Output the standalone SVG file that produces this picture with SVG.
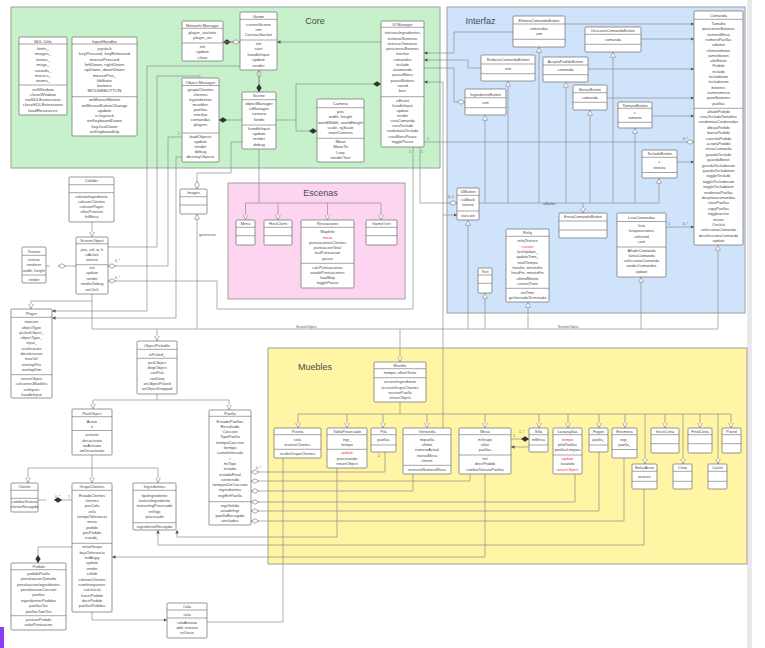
<svg xmlns="http://www.w3.org/2000/svg" width="765" height="648" viewBox="0 0 765 648">
<defs>
<style>
text{font-family:"Liberation Sans",Arial,sans-serif;font-size:4.2px;fill:#4a4a4a;text-anchor:middle}
.n{fill:#fff;stroke:#6a6a6a;stroke-width:.7}
.s{stroke:#6a6a6a;stroke-width:.6;fill:none}
.c{fill:none;stroke:#8e8e8e;stroke-width:.7}
.L{font-size:9px;fill:#4a4a4a}
.m{font-size:3.4px;text-anchor:start;fill:#555}
.r{fill:#e53935}
.big text{font-size:4.4px}
.sm text{font-size:3.9px}
.reg{stroke:#a0a0a0;stroke-width:1}
</style>
<marker id="a" viewBox="0 0 6 6" refX="6" refY="3" markerWidth="3.5" markerHeight="3.5" markerUnits="userSpaceOnUse" orient="auto"><path d="M0,0L6,3L0,6z" fill="#555"/></marker>
<marker id="t" viewBox="0 0 10 10" refX="10" refY="5" markerWidth="5.5" markerHeight="5.5" markerUnits="userSpaceOnUse" orient="auto"><path d="M0.5,0.5L9.5,5L0.5,9.5z" fill="#fff" stroke="#777" stroke-width="1"/></marker>
<marker id="df" viewBox="0 0 12 8" refX="12" refY="4" markerWidth="8" markerHeight="5.3" markerUnits="userSpaceOnUse" orient="auto"><path d="M0,4L6,0L12,4L6,8z" fill="#333"/></marker>
<marker id="dw" viewBox="0 0 12 8" refX="12" refY="4" markerWidth="8" markerHeight="5.3" markerUnits="userSpaceOnUse" orient="auto"><path d="M0.5,4L6,0.5L11.5,4L6,7.5z" fill="#fff" stroke="#777" stroke-width="1"/></marker>
</defs>
<rect width="765" height="648" fill="#fff"/>
<rect x="747" y="0" width="5" height="648" fill="#e9e9e9"/>
<rect x="0" y="627" width="4" height="21" fill="#8b3cf7"/>

<!-- regions -->
<g id="core-pkg"><rect class="reg" x="11" y="7" width="429" height="161" fill="#c6f1cb"/><text class="L" x="315" y="23.5">Core</text></g>
<g id="interfaz-pkg"><rect class="reg" x="447" y="7" width="298" height="306" fill="#cfe3fb"/><text class="L" x="480.5" y="23.5">Interfaz</text></g>
<g id="escenas-pkg"><rect class="reg" x="228" y="183" width="177" height="116" fill="#fdd5f1"/><text class="L" x="320.5" y="196">Escenas</text></g>
<g id="muebles-pkg"><rect class="reg" x="268" y="348" width="479" height="216" fill="#fff5a5"/><text class="L" x="315" y="370">Muebles</text></g>

<!-- connectors -->
<g id="connectors">
<path class="c" d="M240,42H223" marker-end="url(#df)"/>
<path class="c" d="M223,42H240" marker-end="url(#dw)"/>
<path class="c" d="M381,42H277" marker-end="url(#a)"/>
<path class="c" d="M259,92V70" marker-end="url(#dw)"/>
<path class="c" d="M259,70V92" marker-end="url(#df)"/>
<path class="c" d="M242,120H219" marker-end="url(#df)"/>
<path class="c" d="M276,120H296V84H381" marker-end="url(#df)"/>
<path class="c" d="M296,120V131H317" marker-end="url(#df)"/>
<path class="c" d="M242,142H231V173H197V189" marker-end="url(#dw)"/>
<path class="c" d="M259,149V203M245.5,203H381"/>
<path class="c" d="M245.5,203V220" marker-end="url(#t)"/>
<path class="c" d="M278,203V220" marker-end="url(#t)"/>
<path class="c" d="M327.5,203V220" marker-end="url(#t)"/>
<path class="c" d="M381,203V220" marker-end="url(#t)"/>
<path class="c" d="M240,66H147V311H52" marker-end="url(#a)"/>
<path class="c" d="M108,247H157V76H200V78"/>
<path class="c" d="M182,137H168V266H108" marker-end="url(#dw)"/>
<path class="c" d="M182,157H176V318H52" marker-end="url(#a)"/>
<path class="c" d="M413,147V309H217V281H108" marker-end="url(#dw)"/>
<path class="c" d="M420,147V203H457" marker-end="url(#dw)"/>
<path class="c" d="M479,203H659"/>
<path class="c" d="M485,203V115" marker-end="url(#t)"/>
<path class="c" d="M508,203V81" marker-end="url(#t)"/>
<path class="c" d="M539,203V47" marker-end="url(#t)"/>
<path class="c" d="M566,203V82" marker-end="url(#t)"/>
<path class="c" d="M590,203V110" marker-end="url(#t)"/>
<path class="c" d="M613,203V52" marker-end="url(#t)"/>
<path class="c" d="M635,203V128" marker-end="url(#t)"/>
<path class="c" d="M659,203V178" marker-end="url(#t)"/>
<path class="c" d="M583,203V213" marker-end="url(#t)"/>
<path class="c" d="M513,32H454V53H424" marker-end="url(#a)"/>
<path class="c" d="M481,68H468V60H424" marker-end="url(#a)"/>
<path class="c" d="M424,68H454V102H465" marker-end="url(#dw)"/>
<path class="c" d="M443,428V82H424" marker-end="url(#a)"/>
<path class="c" d="M443,215H457" marker-end="url(#a)"/>
<path class="c" d="M424,142H694" marker-end="url(#dw)"/>
<path class="c" d="M565,24H694" marker-end="url(#a)"/>
<path class="c" d="M641,39H694" marker-end="url(#a)"/>
<path class="c" d="M588,69H694" marker-end="url(#a)"/>
<path class="c" d="M607,98H694" marker-end="url(#a)"/>
<path class="c" d="M652,116H694" marker-end="url(#a)"/>
<path class="c" d="M677,162H694" marker-end="url(#a)"/>
<path class="c" d="M666,227H694" marker-end="url(#a)"/>
<path class="c" d="M92,294V329H718M92,301H31"/>
<path class="c" d="M31,301V309" marker-end="url(#t)"/>
<path class="c" d="M92,222V237" marker-end="url(#t)"/>
<path class="c" d="M468,329V220" marker-end="url(#t)"/>
<path class="c" d="M485,329V293" marker-end="url(#t)"/>
<path class="c" d="M528,329V302" marker-end="url(#t)"/>
<path class="c" d="M641,329V277" marker-end="url(#t)"/>
<path class="c" d="M718,329V245" marker-end="url(#t)"/>
<path class="c" d="M197,329V214" marker-end="url(#t)"/>
<path class="c" d="M400,329V362" marker-end="url(#t)"/>
<path class="c" d="M157,329V341" marker-end="url(#t)"/>
<path class="c" d="M157,394V400M93,400H229"/>
<path class="c" d="M93,400V409" marker-end="url(#t)"/>
<path class="c" d="M229,400V410" marker-end="url(#t)"/>
<path class="c" d="M92,455V468M28,468H158"/>
<path class="c" d="M28,468V483" marker-end="url(#t)"/>
<path class="c" d="M92,468V483" marker-end="url(#t)"/>
<path class="c" d="M158,468V483" marker-end="url(#t)"/>
<path class="c" d="M72,500H54" marker-end="url(#df)"/>
<path class="c" d="M46,500H38"/>
<path class="c" d="M72,547H38V563" marker-end="url(#df)"/>
<path class="c" d="M92,612V620H167" marker-end="url(#a)"/>
<path class="c" d="M485,474V557H112" marker-end="url(#a)"/>
<path class="c" d="M644,489V545H158V530" marker-end="url(#a)"/>
<path class="c" d="M337,468V537H177V530" marker-end="url(#a)"/>
<path class="c" d="M283,458V622H207"/>
<path class="c" d="M385,452V472H251" marker-end="url(#dw)"/>
<path class="c" d="M470,474V481H251" marker-end="url(#dw)"/>
<path class="c" d="M413,474V491H251" marker-end="url(#dw)"/>
<path class="c" d="M575,474V502H251" marker-end="url(#dw)"/>
<path class="c" d="M599,452V511H251" marker-end="url(#dw)"/>
<path class="c" d="M624,458V521H251" marker-end="url(#dw)"/>
<path class="c" d="M511,439H529" marker-end="url(#df)"/>
<path class="c" d="M529,447H511" marker-end="url(#a)"/>
<path class="c" d="M400,402V414M298,414H731"/>
<path class="c" d="M298,414V428" marker-end="url(#t)"/>
<path class="c" d="M347,414V428" marker-end="url(#t)"/>
<path class="c" d="M383,414V428" marker-end="url(#t)"/>
<path class="c" d="M427,414V428" marker-end="url(#t)"/>
<path class="c" d="M485,414V428" marker-end="url(#t)"/>
<path class="c" d="M539,414V428" marker-end="url(#t)"/>
<path class="c" d="M568,414V428" marker-end="url(#t)"/>
<path class="c" d="M599,414V428" marker-end="url(#t)"/>
<path class="c" d="M625,414V428" marker-end="url(#t)"/>
<path class="c" d="M665,414V428" marker-end="url(#t)"/>
<path class="c" d="M700,414V428" marker-end="url(#t)"/>
<path class="c" d="M731,414V428" marker-end="url(#t)"/>
<path class="c" d="M645,414V464" marker-end="url(#t)"/>
<path class="c" d="M683,414V464" marker-end="url(#t)"/>
<path class="c" d="M718,414V464" marker-end="url(#t)"/>
<path class="c" d="M76,266H58" marker-end="url(#dw)"/>
<path class="c" d="M50,266H46"/>
<text class="m" x="178" y="135">1</text>
<text class="m" x="115" y="262">0..*</text>
<text class="m" x="115" y="279">0..*</text>
<text class="m" x="409" y="153">1</text>
<text class="m" x="421" y="153">1</text>
<text class="m" x="448" y="198">0..1</text>
<text class="m" x="427" y="140">1</text>
<text class="m" x="683" y="140">0..*</text>
<text class="m" x="668" y="225">1</text>
<text class="m" x="683" y="225">0..*</text>
<text class="m" x="55" y="498">0..*</text>
<text class="m" x="68" y="498">1</text>
<text class="m" x="256" y="469">0..*</text>
<text class="m" x="378" y="457">2</text>
<text class="m" x="513" y="437">1</text>
<text class="m" x="519" y="433">1..*</text>
<text class="m" x="543" y="205">uiButton</text>
<text class="m" x="296" y="328">ScreenObject</text>
<text class="m" x="558" y="328">ScreenObject</text>
<text class="m" x="199" y="236">generacion</text>
</g>

<!-- Core nodes -->
<g id="sdlutils" class="big"><rect class="n" x="19" y="37" width="48" height="78" rx="1"/><text x="43" y="42.5">SDL Utils</text><path class="s" d="M19,44H67M19,85H67"/>
<text><tspan x="43" y="50">fonts_</tspan><tspan x="43" y="55.4">images_</tspan><tspan x="43" y="60.8">textos_</tspan><tspan x="43" y="66.2">msgs_</tspan><tspan x="43" y="71.6">sounds_</tspan><tspan x="43" y="77">musics_</tspan><tspan x="43" y="82.4">anims_</tspan></text>
<text><tspan x="43" y="90.5">initWindow</tspan><tspan x="43" y="95.8">closeWindow</tspan><tspan x="43" y="101.1">initSDLExtensions</tspan><tspan x="43" y="106.4">closeSDLExtensions</tspan><tspan x="43" y="111.7">loadResources</tspan></text></g>

<g id="inputhandler" class="big"><rect class="n" x="72" y="37" width="65" height="99" rx="1"/><text x="104.5" y="42.5">InputHandler</text><path class="s" d="M72,44H137M72,96.7H137"/>
<text><tspan x="104.5" y="50">joystick</tspan><tspan x="104.5" y="55.3">keyPressed, keyReleased</tspan><tspan x="104.5" y="60.6">mousePressed</tspan><tspan x="104.5" y="65.9">leftDown, rightDown</tspan><tspan x="104.5" y="71.2">upDown, downDown</tspan><tspan x="104.5" y="76.5">mousePos_</tspan><tspan x="104.5" y="81.8">kbState</tspan><tspan x="104.5" y="87.1">buttons</tspan><tspan x="104.5" y="92.4">MOUSEBUTTON</tspan></text>
<text><tspan x="104.5" y="101.2">onMouseMotion</tspan><tspan x="104.5" y="106.5">onMouseButtonChange</tspan><tspan x="104.5" y="111.8">update</tspan><tspan x="104.5" y="117.1">isJoystick</tspan><tspan x="104.5" y="122.4">onKeyboardDown</tspan><tspan x="104.5" y="127.7">keyJustDown</tspan><tspan x="104.5" y="133">onKeyboardUp</tspan></text></g>

<g id="networkmanager"><rect class="n" x="182" y="21" width="41" height="40" rx="1"/><text x="202.5" y="26.5">Network Manager</text><path class="s" d="M182,28.3H223M182,43H223"/>
<text><tspan x="202.5" y="33.5">player_sockets</tspan><tspan x="202.5" y="38.5">player_on</tspan></text>
<text><tspan x="202.5" y="48.2">init</tspan><tspan x="202.5" y="53.4">update</tspan><tspan x="202.5" y="58.6">close</tspan></text></g>

<g id="game"><rect class="n" x="240" y="12" width="37" height="58" rx="1"/><text x="258.5" y="17.5">Game</text><path class="s" d="M240,19.3H277M240,40H277"/>
<text><tspan x="258.5" y="25.5">currentScene</tspan><tspan x="258.5" y="30.8">nm</tspan><tspan x="258.5" y="36.1">CanvasSocket</tspan></text>
<text><tspan x="258.5" y="44.8">init</tspan><tspan x="258.5" y="50.3">start</tspan><tspan x="258.5" y="55.8">handleInput</tspan><tspan x="258.5" y="61.3">update</tspan><tspan x="258.5" y="66.8">render</tspan></text></g>

<g id="objectmanager"><rect class="n" x="182" y="78" width="37" height="84" rx="1"/><text x="200.5" y="83.5">Object Manager</text><path class="s" d="M182,85.5H219M182,133H219"/>
<text><tspan x="200.5" y="91">grupoClientes</tspan><tspan x="200.5" y="96">clientes</tspan><tspan x="200.5" y="101">ingredientes</tspan><tspan x="200.5" y="106">muebles</tspan><tspan x="200.5" y="111">paellas</tspan><tspan x="200.5" y="116">interfaz</tspan><tspan x="200.5" y="121">comandas</tspan><tspan x="200.5" y="126">players</tspan></text>
<text><tspan x="200.5" y="138">loadObjects</tspan><tspan x="200.5" y="143.1">update</tspan><tspan x="200.5" y="148.2">render</tspan><tspan x="200.5" y="153.3">debug</tspan><tspan x="200.5" y="158.4">destroyObjects</tspan></text></g>

<g id="scene"><rect class="n" x="242" y="92" width="34" height="57" rx="1"/><text x="259" y="97.3">Scene</text><path class="s" d="M242,99.7H276M242,125H276"/>
<text><tspan x="259" y="105">objectManager</tspan><tspan x="259" y="110.2">uiManager</tspan><tspan x="259" y="115.4">camera</tspan><tspan x="259" y="120.6">fondo</tspan></text>
<text><tspan x="259" y="130">handleInput</tspan><tspan x="259" y="135.2">update</tspan><tspan x="259" y="140.4">render</tspan><tspan x="259" y="145.6">debug</tspan></text></g>

<g id="camera"><rect class="n" x="317" y="99" width="47" height="63" rx="1"/><text x="340.5" y="105">Camera</text><path class="s" d="M317,107.7H364M317,138.3H364"/>
<text><tspan x="340.5" y="113.2">pos</tspan><tspan x="340.5" y="118.4">width, height</tspan><tspan x="340.5" y="123.6">worldWidth, worldHeight</tspan><tspan x="340.5" y="128.8">scale, rgScale</tspan><tspan x="340.5" y="134">mainCamera</tspan></text>
<text><tspan x="340.5" y="143.2">Move</tspan><tspan x="340.5" y="148.4">MoveTo</tspan><tspan x="340.5" y="153.6">Lerp</tspan><tspan x="340.5" y="158.8">renderText</tspan></text></g>

<g id="uimanager" class="sm"><rect class="n" x="381" y="21" width="43" height="126" rx="1"/><text x="402.5" y="25.5">UI Manager</text><path class="s" d="M381,27.3H424M381,96.7H424"/>
<text><tspan x="402.5" y="34.2">texturasIngredientes</tspan><tspan x="402.5" y="39.5">texturasNumeros</tspan><tspan x="402.5" y="44.7">texturasTamanos</tspan><tspan x="402.5" y="50">posicionesBotones</tspan><tspan x="402.5" y="55.3">interfaz</tspan><tspan x="402.5" y="60.6">comandas</tspan><tspan x="402.5" y="65.8">teclado</tspan><tspan x="402.5" y="71.1">uicomanda</tspan><tspan x="402.5" y="76.4">pauseMenu</tspan><tspan x="402.5" y="81.6">pauseButtons</tspan><tspan x="402.5" y="86.9">sound</tspan><tspan x="402.5" y="92.2">bars</tspan></text>
<text><tspan x="402.5" y="101.5">uiEvent</tspan><tspan x="402.5" y="106.7">handleInput</tspan><tspan x="402.5" y="111.8">update</tspan><tspan x="402.5" y="117">render</tspan><tspan x="402.5" y="122.1">creaComanda</tspan><tspan x="402.5" y="127.3">creaTeclado</tspan><tspan x="402.5" y="132.4">randomizaTeclado</tspan><tspan x="402.5" y="137.6">creaMenuPause</tspan><tspan x="402.5" y="142.7">togglePause</tspan></text></g>

<!-- Interfaz nodes -->
<g id="eliminacomandabutton" class="sm"><rect class="n" x="513" y="16" width="52" height="31" rx="1"/><text x="539" y="21.5">EliminaComandaButton</text><path class="s" d="M513,24H565M513,39.3H565"/><text><tspan x="539" y="29.8">comandas</tspan><tspan x="539" y="34.6">uim</tspan></text></g>
<g id="redactacomandabutton" class="sm"><rect class="n" x="481" y="55" width="54" height="26" rx="1"/><text x="508" y="60.8">RedactaComandaButton</text><path class="s" d="M481,64H535M481,73.7H535"/><text x="508" y="69.8">uim</text></g>
<g id="aceptapedidobutton" class="sm"><rect class="n" x="543" y="57" width="45" height="25" rx="1"/><text x="565.5" y="62.5">AceptaPedidoButton</text><path class="s" d="M543,65H588M543,74.7H588"/><text x="565.5" y="70.8">comanda</text></g>
<g id="ingredientebutton" class="sm"><rect class="n" x="465" y="89" width="41" height="26" rx="1"/><text x="485.5" y="95.5">IngredienteButton</text><path class="s" d="M465,97.7H506M465,107.7H506"/><text x="485.5" y="104.2">uim</text></g>
<g id="descartacomandabutton" class="sm"><rect class="n" x="585" y="27" width="56" height="25" rx="1"/><text x="613" y="31.8">DescartaComandaButton</text><path class="s" d="M585,34.3H641M585,44.3H641"/><text x="613" y="40.5">comanda</text></g>
<g id="borrarbutton" class="sm"><rect class="n" x="573" y="85" width="34" height="25" rx="1"/><text x="590" y="90.5">BorrarButton</text><path class="s" d="M573,92.7H607M573,102.3H607"/><text x="590" y="99.2">comanda</text></g>
<g id="tamanobutton" class="sm"><rect class="n" x="618" y="102" width="34" height="26" rx="1"/><text x="635" y="106.5">TamanoButton</text><path class="s" d="M618,108.3H652M618,122.3H652"/><text><tspan x="635" y="114.3">c</tspan><tspan x="635" y="119.3">tamano</tspan></text></g>
<g id="tecladobutton" class="sm"><rect class="n" x="642" y="150" width="35" height="28" rx="1"/><text x="659.5" y="155">TecladoButton</text><path class="s" d="M642,157.3H677M642,172.5H677"/><text><tspan x="659.5" y="163">c</tspan><tspan x="659.5" y="168.5">textura</tspan></text></g>

<g id="comanda" class="sm"><rect class="n" x="694" y="11" width="49" height="234" rx="1"/><text x="718.5" y="16.5">Comanda</text><path class="s" d="M694,19.3H743M694,108.3H743"/>
<text><tspan x="718.5" y="24.8">Tamaño</tspan><tspan x="718.5" y="30.1">posicionesBotones</tspan><tspan x="718.5" y="35.5">numeroMesa</tspan><tspan x="718.5" y="40.8">numeroPaellas</tspan><tspan x="718.5" y="46.1">uiboton</tspan><tspan x="718.5" y="51.5">eliminarboton</tspan><tspan x="718.5" y="56.8">jamonboton</tspan><tspan x="718.5" y="62.1">altoBoton</tspan><tspan x="718.5" y="67.4">Pedido</tspan><tspan x="718.5" y="72.8">teclado</tspan><tspan x="718.5" y="78.1">tecladotam</tspan><tspan x="718.5" y="83.4">tecladonum</tspan><tspan x="718.5" y="88.8">botones</tspan><tspan x="718.5" y="94.1">numeromesa</tspan><tspan x="718.5" y="99.4">panelbotones</tspan><tspan x="718.5" y="104.8">paellas</tspan></text>
<text><tspan x="718.5" y="112.5">añadirPedido</tspan><tspan x="718.5" y="117.9">creaTecladoTamaños</tspan><tspan x="718.5" y="123.3">randomizaCordenadas</tspan><tspan x="718.5" y="128.7">dibujaPedido</tspan><tspan x="718.5" y="134.1">borrarPedido</tspan><tspan x="718.5" y="139.5">cancelaPedido</tspan><tspan x="718.5" y="144.9">aceptaPedido</tspan><tspan x="718.5" y="150.3">enviaComanda</tspan><tspan x="718.5" y="155.7">guardaTeclado</tspan><tspan x="718.5" y="161.1">guardaBoton</tspan><tspan x="718.5" y="166.5">guardaTecladonum</tspan><tspan x="718.5" y="171.9">guardaTecladotam</tspan><tspan x="718.5" y="177.3">toggleTeclado</tspan><tspan x="718.5" y="182.7">toggleTecladonum</tspan><tspan x="718.5" y="188.1">toggleTecladotam</tspan><tspan x="718.5" y="193.5">renderizaPaellas</tspan><tspan x="718.5" y="198.9">desplazacomandas</tspan><tspan x="718.5" y="204.3">clearPaellas</tspan><tspan x="718.5" y="209.7">copyPaellas</tspan><tspan x="718.5" y="215.1">toggleactive</tspan><tspan x="718.5" y="220.5">enviar</tspan><tspan x="718.5" y="225.9">Onclick</tspan><tspan x="718.5" y="231.3">seleccionaComanda</tspan><tspan x="718.5" y="236.7">deseleccionaComanda</tspan><tspan x="718.5" y="242.1">update</tspan></text></g>

<g id="uibutton" class="sm"><rect class="n" x="457" y="188" width="22" height="32" rx="1"/><text x="468" y="193">UIButton</text><path class="s" d="M457,195.3H479M457,211H479"/><text><tspan x="468" y="201">callback</tspan><tspan x="468" y="206">texture</tspan></text><text x="468" y="216.5">execute</text></g>
<g id="enviacomandabutton" class="sm"><rect class="n" x="559" y="213" width="48" height="25" rx="1"/><text x="583" y="218.2">EnviaComandaButton</text><path class="s" d="M559,221H607M559,230H607"/></g>
<g id="listacomandas" class="sm"><rect class="n" x="617" y="213" width="49" height="64" rx="1"/><text x="641.5" y="218.8">ListaComandas</text><path class="s" d="M617,221.5H666M617,247H666"/>
<text><tspan x="641.5" y="226.5">lista</tspan><tspan x="641.5" y="232">listaposiciones</tspan><tspan x="641.5" y="237.5">selected</tspan><tspan x="641.5" y="242.8">cant</tspan></text>
<text><tspan x="641.5" y="251.5">AñadirComanda</tspan><tspan x="641.5" y="256.8">lanzaComanda</tspan><tspan x="641.5" y="262.1">seleccionaComanda</tspan><tspan x="641.5" y="267.4">renderComandas</tspan><tspan x="641.5" y="272.7">update</tspan></text></g>
<g id="text" class="sm"><rect class="n" x="478" y="268" width="14" height="25" rx="1"/><text x="485" y="272.5">Text</text><path class="s" d="M478,275H492M478,283.3H492"/></g>
<g id="reloj" class="sm"><rect class="n" x="506" y="229" width="43" height="73" rx="1"/><text x="527.5" y="233.8">Reloj</text><path class="s" d="M506,236.3H549M506,288.3H549"/>
<text><tspan x="527.5" y="242.2">relojTexture</tspan><tspan class="r" x="527.5" y="247.5">current</tspan><tspan x="527.5" y="252.8">lastUpdate_</tspan><tspan x="527.5" y="258.2">updateTime_</tspan><tspan x="527.5" y="263.5">totalTiempo</tspan><tspan x="527.5" y="268.8">horaIni, minutoIni</tspan><tspan x="527.5" y="274.2">horaFin, minutoFin</tspan><tspan x="527.5" y="279.5">ultimoMinuto</tspan><tspan x="527.5" y="284.8">currentTime</tspan></text>
<text><tspan x="527.5" y="294.2">initTime</tspan><tspan x="527.5" y="299.2">getJornadaTerminada</tspan></text></g>

<!-- Escenas nodes -->
<g id="menu" class="sm"><rect class="n" x="236" y="220" width="19" height="25" rx="1"/><text x="245.5" y="224.8">Menu</text><path class="s" d="M236,227.3H255M236,235.7H255"/></g>
<g id="hostclient" class="sm"><rect class="n" x="264" y="220" width="28" height="25" rx="1"/><text x="278" y="224.8">HostClient</text><path class="s" d="M264,227.3H292M264,235.7H292"/></g>
<g id="restaurante" class="sm"><rect class="n" x="301" y="220" width="53" height="68" rx="1"/><text x="327.5" y="224.8">Restaurante</text><path class="s" d="M301,227.3H354M301,263.3H354"/>
<text><tspan x="327.5" y="233.2">MapInfo</tspan><tspan class="r" x="327.5" y="238.5">mesa</tspan><tspan x="327.5" y="243.7">puntuacionesClientes</tspan><tspan x="327.5" y="249.2">puntuacionTotal</tspan><tspan x="327.5" y="254.4">lastPuntuacion</tspan><tspan x="327.5" y="259.6">pausa</tspan></text>
<text><tspan x="327.5" y="268.8">calcPuntuaciones</tspan><tspan x="327.5" y="274">anadirPuntuaciones</tspan><tspan x="327.5" y="279">loadMap</tspan><tspan x="327.5" y="284.2">togglePause</tspan></text></g>
<g id="gameover" class="sm"><rect class="n" x="366" y="220" width="31" height="25" rx="1"/><text x="381.5" y="224.8">GameOver</text><path class="s" d="M366,227.3H397M366,235.7H397"/></g>

<!-- left column -->
<g id="images" class="sm"><rect class="n" x="180" y="189" width="27" height="25" rx="1"/><text x="193.5" y="194">Images</text><path class="s" d="M180,196.7H207M180,205H207"/></g>
<g id="collider" class="sm"><rect class="n" x="69" y="177" width="45" height="45" rx="1"/><text x="91.5" y="182">Collider</text><path class="s" d="M69,184.7H114M69,192.7H114"/>
<text><tspan x="91.5" y="198">colisionIngrediente</tspan><tspan x="91.5" y="203">colisionClientes</tspan><tspan x="91.5" y="208">colisionPlayer</tspan><tspan x="91.5" y="213">sillasProvisto</tspan><tspan x="91.5" y="218">hitMesa</tspan></text></g>
<g id="screenobject" class="sm"><rect class="n" x="76" y="237" width="32" height="57" rx="1"/><text x="92" y="241.8">ScreenObject</text><path class="s" d="M76,243.7H108M76,264.7H108"/>
<text><tspan x="92" y="250.5">pos, vel, w, h</tspan><tspan x="92" y="255.7">isActive</tspan><tspan x="92" y="260.9">texture</tspan></text>
<text><tspan x="92" y="269">init</tspan><tspan x="92" y="274.4">update</tspan><tspan x="92" y="279.8">render</tspan><tspan x="92" y="285.2">renderDebug</tspan><tspan x="92" y="290.6">onClick</tspan></text></g>
<g id="texture" class="sm"><rect class="n" x="22" y="247" width="24" height="36" rx="1"/><text x="34" y="252.8">Texture</text><path class="s" d="M22,255.3H46M22,275H46"/>
<text><tspan x="34" y="260.5">texture</tspan><tspan x="34" y="266">renderer</tspan><tspan x="34" y="271.8">width, height</tspan></text><text x="34" y="280.5">render</text></g>
<g id="player" class="sm"><rect class="n" x="11" y="309" width="41" height="89" rx="1"/><text x="31.5" y="314.5">Player</text><path class="s" d="M11,317.3H52M11,374.7H52"/>
<text><tspan x="31.5" y="323.2">rotacion</tspan><tspan x="31.5" y="328.5">objectType</tspan><tspan x="31.5" y="333.8">pickedObject_</tspan><tspan x="31.5" y="339.1">objectType_</tspan><tspan x="31.5" y="344.4">input_</tspan><tspan x="31.5" y="349.7">aceleracion</tspan><tspan x="31.5" y="355">deceleracion</tspan><tspan x="31.5" y="360.3">maxVel</tspan><tspan x="31.5" y="365.6">overlapPos</tspan><tspan x="31.5" y="370.9">overlapDim</tspan></text>
<text><tspan x="31.5" y="379.8">returnObject</tspan><tspan x="31.5" y="385.2">colisionesMuebles</tspan><tspan x="31.5" y="390.5">setInputs</tspan><tspan x="31.5" y="395.6">handleInput</tspan></text></g>
<g id="objectpickable" class="sm"><rect class="n" x="137" y="341" width="40" height="53" rx="1"/><text x="157" y="346.8">ObjectPickable</text><path class="s" d="M137,349.3H177M137,358.3H177"/><text x="157" y="355.5">isPicked_</text>
<text><tspan x="157" y="363.8">pickObject</tspan><tspan x="157" y="369.1">dropObject</tspan><tspan x="157" y="374.4">canPick</tspan><tspan x="157" y="379.7">canDrop</tspan><tspan x="157" y="385">onObjectPicked</tspan><tspan x="157" y="390.3">onObjectDropped</tspan></text></g>
<g id="poolobject" class="sm"><rect class="n" x="72" y="409" width="40" height="46" rx="1"/><text x="92" y="414.5">PoolObject</text><path class="s" d="M72,416.7H112M72,430.5H112"/>
<text><tspan x="92" y="422.5">Active</tspan><tspan x="92" y="427.6">it</tspan></text>
<text><tspan x="92" y="436.2">activate</tspan><tspan x="92" y="441.5">desactivate</tspan><tspan x="92" y="446.8">onActivate</tspan><tspan x="92" y="452.1">onDesactivate</tspan></text></g>
<g id="cliente" class="sm"><rect class="n" x="11" y="483" width="27" height="29" rx="1"/><text x="24.5" y="488.2">Cliente</text><path class="s" d="M11,490.3H38M11,498.3H38"/>
<text><tspan x="24.5" y="503">cambiaTextura</tspan><tspan x="24.5" y="508.2">clienteRecogido</tspan></text></g>
<g id="grupoclientes" class="sm"><rect class="n" x="72" y="483" width="40" height="129" rx="1"/><text x="92" y="488.2">GrupoClientes</text><path class="s" d="M72,490.3H112M72,543.3H112"/>
<text><tspan x="92" y="496.5">EstadoClientes</tspan><tspan x="92" y="501.8">clientes</tspan><tspan x="92" y="507.2">posCola</tspan><tspan x="92" y="512.5">cola</tspan><tspan x="92" y="517.9">tiempoTolerancia</tspan><tspan x="92" y="523.2">mesa</tspan><tspan x="92" y="528.6">pedido</tspan><tspan x="92" y="533.9">posPedido</tspan><tspan x="92" y="539.3">estado_</tspan></text>
<text><tspan x="92" y="548.2">initialGrupo</tspan><tspan x="92" y="553.6">bajaTolerancia</tspan><tspan x="92" y="559">initAngry</tspan><tspan x="92" y="564.3">update</tspan><tspan x="92" y="569.7">render</tspan><tspan x="92" y="575.1">collide</tspan><tspan x="92" y="580.5">colisionClientes</tspan><tspan x="92" y="585.9">numIntegrantes</tspan><tspan x="92" y="591.2">calcInicial</tspan><tspan x="92" y="596.6">hacerPedido</tspan><tspan x="92" y="602">decirPedido</tspan><tspan x="92" y="607.4">paellasPedidas</tspan></text></g>
<g id="ingredientes" class="sm"><rect class="n" x="133" y="483" width="43" height="47" rx="1"/><text x="154.5" y="488.2">Ingredientes</text><path class="s" d="M133,490.3H176M133,522.7H176"/>
<text><tspan x="154.5" y="496.5">tipoIngrediente</tspan><tspan x="154.5" y="501.8">texturaIngrediente</tspan><tspan x="154.5" y="507.2">texturaIngProcesado</tspan><tspan x="154.5" y="512.5">enVigo</tspan><tspan x="154.5" y="517.9">procesado</tspan></text><text x="154.5" y="527.5">ingredienteRecogido</text></g>
<g id="pedido" class="sm"><rect class="n" x="11" y="563" width="55" height="67" rx="1"/><text x="38.5" y="567.8">Pedido</text><path class="s" d="M11,569.7H66M11,615.7H66"/>
<text><tspan x="38.5" y="574.8">pedidoPaella</tspan><tspan x="38.5" y="580.2">penalizacionTamaño</tspan><tspan x="38.5" y="585.6">penalizacionIngredientes</tspan><tspan x="38.5" y="591">penalizacionCoccion</tspan><tspan x="38.5" y="596.4">paellas</tspan><tspan x="38.5" y="601.8">ingredientesPedidos</tspan><tspan x="38.5" y="607.2">paellasTex</tspan><tspan x="38.5" y="612.6">paellasTamTex</tspan></text>
<text><tspan x="38.5" y="620.8">puntuarPedido</tspan><tspan x="38.5" y="626.3">valorPuntuacion</tspan></text></g>
<g id="cola" class="sm"><rect class="n" x="167" y="603" width="40" height="35" rx="1"/><text x="187" y="607.6">Cola</text><path class="s" d="M167,610H207M167,618H207"/><text x="187" y="615.5">cola</text>
<text><tspan x="187" y="623.5">colaAvanza</tspan><tspan x="187" y="628.7">add, remove</tspan><tspan x="187" y="633.9">esVacio</tspan></text></g>
<g id="paella"><rect class="n" x="209" y="410" width="42" height="115" rx="1"/><text x="230" y="414.6">Paella</text><path class="s" d="M209,416.3H251M209,501.7H251"/>
<text><tspan x="230" y="422.5">EstadoPaellas</tspan><tspan x="230" y="427.8">Resultado</tspan><tspan x="230" y="433.1">Coccion</tspan><tspan x="230" y="438.4">TipoPaella</tspan><tspan x="230" y="443.7">tiempoCoccion</tspan><tspan x="230" y="449">tiempo</tspan><tspan x="230" y="454.3">sumaIntervalo</tspan><tspan x="230" y="459.6">i</tspan><tspan x="230" y="464.9">miTipo</tspan><tspan x="230" y="470.2">estado</tspan><tspan x="230" y="475.5">estadoFinal</tspan><tspan x="230" y="480.8">contenido</tspan><tspan x="230" y="486.1">tiemposDeCoccion</tspan><tspan x="230" y="491.4">ingredientes</tspan><tspan x="230" y="496.7">ingrEnPaella</tspan></text>
<text><tspan x="230" y="506.5">ingrValido</tspan><tspan x="230" y="511.8">anadirIngr</tspan><tspan x="230" y="517.1">paellaRecogida</tspan><tspan x="230" y="522.4">anulados</tspan></text></g>

<!-- Muebles nodes -->
<g id="mueble" class="sm"><rect class="n" x="374" y="362" width="52" height="40" rx="1"/><text x="400" y="366.5">Mueble</text><path class="s" d="M374,368.7H426M374,377.7H426"/><text x="400" y="374.4">tiempo, offsetTexto</text>
<text><tspan x="400" y="383.2">receiveIngrediente</tspan><tspan x="400" y="388.5">receiveGrupoClientes</tspan><tspan x="400" y="393.8">receivePaella</tspan><tspan x="400" y="399.1">returnObject</tspan></text></g>
<g id="puerta" class="sm"><rect class="n" x="274" y="428" width="47" height="30" rx="1"/><text x="297.5" y="432.5">Puerta</text><path class="s" d="M274,434.7H321M274,449.3H321"/><text><tspan x="297.5" y="440.5">cola</tspan><tspan x="297.5" y="445.8">texturaClientes</tspan></text><text x="297.5" y="454.8">recibeGrupoClientes</text></g>
<g id="tablaprocesado" class="sm"><rect class="n" x="327" y="428" width="40" height="40" rx="1"/><text x="347" y="432.5">TablaProcesado</text><path class="s" d="M327,434.7H367M327,449.3H367"/><text><tspan x="347" y="440.5">ingr_</tspan><tspan x="347" y="445.8">tiempo</tspan></text>
<text><tspan class="r" x="347" y="454.4">update</tspan><tspan x="347" y="459.7">procesando</tspan><tspan x="347" y="465">returnObject</tspan></text></g>
<g id="pila" class="sm"><rect class="n" x="371" y="428" width="25" height="24" rx="1"/><text x="383.5" y="432.5">Pila</text><path class="s" d="M371,434.7H396M371,445H396"/><text x="383.5" y="441">paellas</text></g>
<g id="ventanilla" class="sm"><rect class="n" x="403" y="428" width="48" height="46" rx="1"/><text x="427" y="432.5">Ventanilla</text><path class="s" d="M403,434.7H451M403,465.3H451"/>
<text><tspan x="427" y="440.8">mipaella</tspan><tspan x="427" y="446.1">ultimo</tspan><tspan x="427" y="451.4">numeroActual</tspan><tspan x="427" y="456.7">nuevaMesa</tspan><tspan x="427" y="462">cliente</tspan></text><text x="427" y="470.5">muestraNumeroMesa</text></g>
<g id="mesa" class="sm"><rect class="n" x="459" y="428" width="52" height="46" rx="1"/><text x="485" y="432.5">Mesa</text><path class="s" d="M459,434.7H511M459,455H511"/>
<text><tspan x="485" y="440.8">mGrupo</tspan><tspan x="485" y="446.1">sillas</tspan><tspan x="485" y="451.4">paellas</tspan></text>
<text><tspan x="485" y="459.8">init</tspan><tspan x="485" y="465.2">decirPedido</tspan><tspan x="485" y="470.5">cambiaTexturaPaellas</tspan></text></g>
<g id="silla" class="sm"><rect class="n" x="529" y="428" width="19" height="24" rx="1"/><text x="538.5" y="432.5">Silla</text><path class="s" d="M529,434.7H548M529,445H548"/><text x="538.5" y="441">mMesa</text></g>
<g id="lavavajillas" class="sm"><rect class="n" x="553" y="428" width="29" height="46" rx="1"/><text x="567.5" y="432.5">Lavavajillas</text><path class="s" d="M553,434.7H582M553,455H582"/>
<text><tspan class="r" x="567.5" y="440.8">tiempo</tspan><tspan x="567.5" y="446.1">pilaPaellas</tspan><tspan x="567.5" y="451.4">paellasLimpias</tspan></text>
<text><tspan class="r" x="567.5" y="459.8">update</tspan><tspan x="567.5" y="465.2">lavando</tspan><tspan class="r" x="567.5" y="470.5">returnObject</tspan></text></g>
<g id="fogon" class="sm"><rect class="n" x="589" y="428" width="19" height="24" rx="1"/><text x="598.5" y="432.5">Fogon</text><path class="s" d="M589,434.7H608M589,445H608"/><text x="598.5" y="441">paella_</text></g>
<g id="encimera" class="sm"><rect class="n" x="612" y="428" width="25" height="30" rx="1"/><text x="624.5" y="432.5">Encimera</text><path class="s" d="M612,434.7H637M612,449.5H637"/><text><tspan x="624.5" y="440.8">ingr_</tspan><tspan x="624.5" y="446.1">paella_</tspan></text></g>
<g id="iniciocinta" class="sm"><rect class="n" x="651" y="428" width="28" height="25" rx="1"/><text x="665" y="432.5">InicioCinta</text><path class="s" d="M651,434.7H679M651,443.7H679"/></g>
<g id="finalcinta" class="sm"><rect class="n" x="688" y="428" width="24" height="25" rx="1"/><text x="700" y="432.5">FinalCinta</text><path class="s" d="M688,434.7H712M688,443.7H712"/></g>
<g id="pared" class="sm"><rect class="n" x="722" y="428" width="19" height="25" rx="1"/><text x="731.5" y="432.5">Pared</text><path class="s" d="M722,434.7H741M722,443.7H741"/></g>
<g id="bolsaarroz" class="sm"><rect class="n" x="632" y="464" width="25" height="25" rx="1"/><text x="644.5" y="469.2">BolsaArroz</text><path class="s" d="M632,471.3H657M632,481.3H657"/><text x="644.5" y="478">arroces</text></g>
<g id="cinta" class="sm"><rect class="n" x="673" y="464" width="19" height="25" rx="1"/><text x="682.5" y="469.2">Cinta</text><path class="s" d="M673,471.3H692M673,481.3H692"/></g>
<g id="cartel" class="sm"><rect class="n" x="708" y="464" width="19" height="25" rx="1"/><text x="717.5" y="469.2">Cartel</text><path class="s" d="M708,471.3H727M708,481.3H727"/></g>
</svg>
